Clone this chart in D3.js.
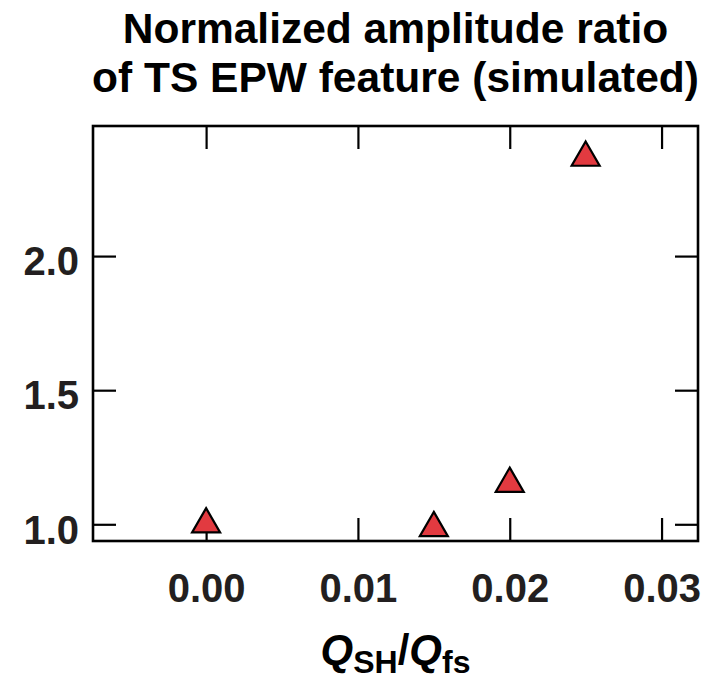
<!DOCTYPE html>
<html>
<head>
<meta charset="utf-8">
<script src="https://cdn.jsdelivr.net/npm/d3@7"></script>
<style>
  body { margin: 0; background: #fff; }
  text { font-family: "Liberation Sans", Arial, sans-serif; font-weight: bold; fill: #231f20; }
</style>
</head>
<body>
<svg id="chart" width="712" height="682"></svg>
<script>
// values
let qRatio = [0.000, 0.015, 0.020, 0.025];
let ampRatio = [1.00, 0.986, 1.151, 2.367];
let xTicks = [0.00, 0.01, 0.02, 0.03];
let yTicks = [1.0, 1.5, 2.0];
let titleLines = ["Normalized amplitude ratio", "of TS EPW feature (simulated)"];

let margin = {top: 126, right: 14, bottom: 141, left: 93};
let width = 712 - margin.left - margin.right;
let height = 682 - margin.top - margin.bottom;

let svg = d3.select("#chart");
let g = svg.append("g")
    .attr("transform", `translate(${margin.left}, ${margin.top})`);

let x = d3.scaleLinear()
    .domain([-0.00745, 0.0324])
    .range([0, width]);

let y = d3.scaleLinear()
    .domain([0.9377, 2.485])
    .range([height, 0]);

let tickLen = 23;

// bottom axis with labels
let xAxis = g.append("g")
    .attr("transform", `translate(0, ${height})`)
    .call(d3.axisBottom(x)
        .tickValues(xTicks)
        .tickFormat(d3.format(".2f"))
        .tickSizeInner(-tickLen)
        .tickSizeOuter(0)
        .tickPadding(32.5));

// top axis, ticks only
let xTop = g.append("g")
    .call(d3.axisTop(x)
        .tickValues(xTicks)
        .tickFormat("")
        .tickSizeInner(-tickLen)
        .tickSizeOuter(0));

// left axis with labels
let yAxis = g.append("g")
    .call(d3.axisLeft(y)
        .tickValues(yTicks)
        .tickFormat(d3.format(".1f"))
        .tickSizeInner(-tickLen)
        .tickSizeOuter(0)
        .tickPadding(14));

// right axis, ticks only
let yRight = g.append("g")
    .attr("transform", `translate(${width}, 0)`)
    .call(d3.axisRight(y)
        .tickValues(yTicks)
        .tickFormat("")
        .tickSizeInner(-tickLen)
        .tickSizeOuter(0));

g.selectAll(".domain").remove();
g.selectAll(".tick line")
    .style("stroke", "#000")
    .style("stroke-width", "2.2px");

g.selectAll(".tick text")
    .style("font-size", "40px")
    .style("font-family", "'Liberation Sans', Arial, sans-serif")
    .style("font-weight", "bold")
    .style("fill", "#231f20");

yAxis.selectAll(".tick text").attr("dy", "0.47em");

// frame
g.append("rect")
    .attr("x", 0)
    .attr("y", 0)
    .attr("width", width)
    .attr("height", height)
    .style("fill", "none")
    .style("stroke", "#000")
    .style("stroke-width", "2.6px");

// triangles
let tri = d3.symbol().type(d3.symbolTriangle).size(340);

g.selectAll("path.pt")
    .data(qRatio)
    .join("path")
    .attr("class", "pt")
    .attr("transform", function(d, i) { return `translate(${x(d)}, ${y(ampRatio[i])})`; })
    .attr("d", tri)
    .style("fill", "#e23a40")
    .style("stroke", "#000")
    .style("stroke-width", "2.2px");

// title
svg.selectAll("text.title")
    .data(titleLines)
    .join("text")
    .attr("class", "title")
    .attr("x", margin.left + width / 2)
    .attr("y", function(d, i) { return 43 + i * 49; })
    .attr("text-anchor", "middle")
    .style("font-size", "42.5px")
    .style("fill", "#000")
    .text(function(d) { return d; });

// x axis label Q_SH/Q_fs
let xLabel = svg.append("text")
    .attr("x", margin.left + width / 2)
    .attr("y", 664)
    .attr("text-anchor", "middle")
    .style("font-size", "42px")
    .style("fill", "#000");

xLabel.append("tspan").style("font-style", "italic").text("Q");
xLabel.append("tspan").attr("dy", 9).style("font-size", "32px").text("SH");
xLabel.append("tspan").attr("dy", -9).text("/");
xLabel.append("tspan").style("font-style", "italic").text("Q");
xLabel.append("tspan").attr("dy", 9).style("font-size", "32px").text("fs");
</script>
</body>
</html>
